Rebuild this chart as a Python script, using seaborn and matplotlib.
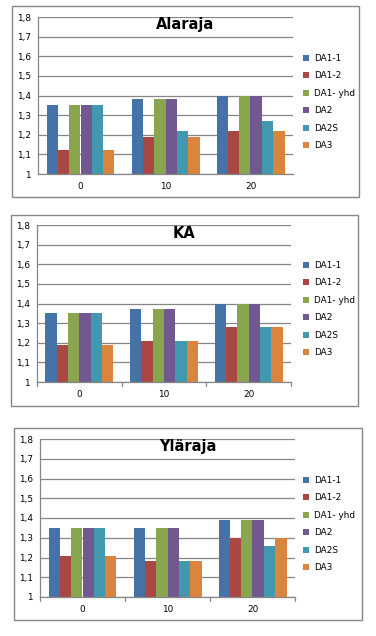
import matplotlib
matplotlib.use("Agg")
import matplotlib.pyplot as plt
from matplotlib.patches import Rectangle
import pandas as pd
import seaborn as sns

# data
series = ["DA1-1", "DA1-2", "DA1- yhd", "DA2", "DA2S", "DA3"]
categories = ["0", "10", "20"]
alaraja = [
    [1.35, 1.12, 1.35, 1.35, 1.35, 1.12],
    [1.38, 1.19, 1.38, 1.38, 1.22, 1.19],
    [1.40, 1.22, 1.40, 1.40, 1.27, 1.22],
]
ka = [
    [1.35, 1.19, 1.35, 1.35, 1.35, 1.19],
    [1.37, 1.21, 1.37, 1.37, 1.21, 1.21],
    [1.40, 1.28, 1.40, 1.40, 1.28, 1.28],
]
ylaraja = [
    [1.35, 1.21, 1.35, 1.35, 1.35, 1.21],
    [1.35, 1.18, 1.35, 1.35, 1.18, 1.18],
    [1.39, 1.30, 1.39, 1.39, 1.26, 1.30],
]
titles = ["Alaraja", "KA", "Yläraja"]
y_ticks = [1.0, 1.1, 1.2, 1.3, 1.4, 1.5, 1.6, 1.7, 1.8]
y_ticklabels = ["1", "1,1", "1,2", "1,3", "1,4", "1,5", "1,6", "1,7", "1,8"]
colors = ["#4572A7", "#AA4643", "#89A54E", "#71588F", "#4198AF", "#DB843D"]

sns.set_style("white")
plt.rcParams["font.family"] = ["DejaVu Sans"]
plt.rcParams["text.color"] = "black"
plt.rcParams["xtick.labelcolor"] = "black"
plt.rcParams["ytick.labelcolor"] = "black"

W, H = 376, 636
fig = plt.figure(figsize=(W / 100, H / 100), dpi=100)

# pixel layout: (plot left, top, right, bottom), (box l, t, r, b), title y, first legend row y
layout = [
    ((38, 17, 293, 174), (12, 6, 359, 197), 24, 61, False),
    ((37, 225, 291, 382), (11, 215, 358, 406), 233, 268, True),
    ((40, 439, 295, 597), (14, 428, 362, 620), 446, 483, True),
]
grey = "#868686"

for data, title, (plot, box, title_y, leg_y, sep_ticks) in zip([alaraja, ka, ylaraja], titles, layout):
    rows = []
    for cat, vals in zip(categories, data):
        for s, v in zip(series, vals):
            rows.append({"x": cat, "series": s, "value": v})
    df = pd.DataFrame(rows)

    # chart border
    bl, bt, br, bb = box
    fig.patches.append(Rectangle((bl / W, 1 - bb / H), (br - bl) / W, (bb - bt) / H,
                                 transform=fig.transFigure, fill=False,
                                 edgecolor=grey, linewidth=1.0))

    pl, pt, pr, pb = plot
    ax = fig.add_axes([pl / W, 1 - pb / H, (pr - pl) / W, (pb - pt) / H])
    sns.barplot(data=df, x="x", y="value", hue="series", order=categories,
                hue_order=series, palette=colors, saturation=1, width=0.8,
                linewidth=0, ax=ax, legend=True)
    ax.set_ylim(1.0, 1.8)
    ax.set_xlim(-0.5, 2.5)
    ax.set_yticks(y_ticks)
    ax.set_yticklabels(y_ticklabels, fontsize=6.4)
    ax.set_xticks(range(len(categories)))
    ax.set_xticklabels(categories, fontsize=6.4)
    ax.set_xlabel("")
    ax.set_ylabel("")
    ax.set_axisbelow(True)
    ax.yaxis.grid(True, color=grey, linewidth=0.9)
    for side in ["top", "right"]:
        ax.spines[side].set_visible(False)
    for side in ["left", "bottom"]:
        ax.spines[side].set_color(grey)
        ax.spines[side].set_linewidth(0.9)
    ax.tick_params(axis="y", length=3, width=0.8, color=grey, pad=2)
    ax.tick_params(axis="x", length=0, pad=6)
    if sep_ticks:
        for xb in [-0.5, 0.5, 1.5, 2.5]:
            ax.plot([xb, xb], [0, -0.025], transform=ax.get_xaxis_transform(),
                    color=grey, linewidth=0.9, clip_on=False)

    fig.text(((bl + br) / 2) / W, 1 - title_y / H, title, ha="center", va="center",
             fontsize=10.5, fontweight="bold")

    handles, labels = ax.get_legend_handles_labels()
    ax.get_legend().remove()
    fig.legend(handles, labels, loc="upper left",
               bbox_to_anchor=(303 / W, 1 - (leg_y - 7) / H),
               bbox_transform=fig.transFigure, frameon=False, fontsize=6.4,
               handlelength=0.7, handleheight=0.7, handletextpad=0.5,
               labelspacing=0.95, borderaxespad=0, borderpad=0)

fig.savefig("out.png", dpi=100)
